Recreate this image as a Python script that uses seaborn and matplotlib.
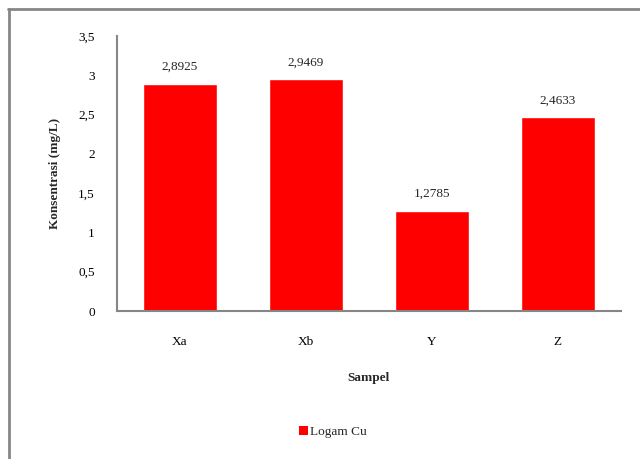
import matplotlib
matplotlib.use("Agg")
import matplotlib.pyplot as plt
from matplotlib.lines import Line2D
from matplotlib.patches import Patch
import seaborn as sns
import pandas as pd

samples = ["Xa", "Xb", "Y", "Z"]
cu_values = [2.8925, 2.9469, 1.2785, 2.4633]
y_ticks = [0, 0.5, 1, 1.5, 2, 2.5, 3, 3.5]
series_name = "Logam Cu"

sns.set_theme(style="white")
plt.rcParams["font.family"] = ["Liberation Serif", "DejaVu Serif"]

df = pd.DataFrame({"Sampel": samples, "Konsentrasi": cu_values})

fig = plt.figure(figsize=(6.4, 4.59), dpi=100)
ax = fig.add_axes([0.1828, 0.3224, 0.7872, 0.5992])

sns.barplot(data=df, x="Sampel", y="Konsentrasi", color="#ff0000",
            saturation=1, width=0.59, ax=ax)

ax.set_xlim(-0.5, 3.5)
ax.set_ylim(0, 3.5)
ax.set_yticks(y_ticks)
ax.set_yticklabels([f"{t:g}".replace(".", ",") for t in y_ticks])
ax.tick_params(axis="both", length=0, labelsize=9.5, colors="black")
ax.tick_params(axis="y", pad=16)
ax.tick_params(axis="x", pad=18)

for i, v in enumerate(cu_values):
    ax.annotate(f"{v:.4f}".replace(".", ","), (i, v), xytext=(0, 8),
                textcoords="offset points", ha="center", va="bottom",
                fontsize=9.5)

for side in ["top", "right"]:
    ax.spines[side].set_visible(False)
for side in ["left", "bottom"]:
    ax.spines[side].set_color("#868686")
    ax.spines[side].set_linewidth(1.5)

ax.set_xlabel("Sampel", fontsize=9.5, fontweight="bold", labelpad=17)
ax.set_ylabel("Konsentrasi (mg/L)", fontsize=9.5, fontweight="bold", labelpad=12)

handles = [Patch(facecolor="#ff0000", edgecolor="none", label=series_name)]
fig.legend(handles=handles, loc="center", bbox_to_anchor=(0.52, 0.058),
           frameon=False, fontsize=9.5, handlelength=0.7, handleheight=0.7,
           handletextpad=0.1)

# outer chart border (only top and left edges fall inside the canvas)
fig.add_artist(Line2D([8 / 640, 1.0], [1 - 9 / 459, 1 - 9 / 459],
                      transform=fig.transFigure, color="#868686", lw=2))
fig.add_artist(Line2D([9 / 640, 9 / 640], [0.0, 1 - 9 / 459],
                      transform=fig.transFigure, color="#868686", lw=2))

fig.savefig("out.png", dpi=100)
